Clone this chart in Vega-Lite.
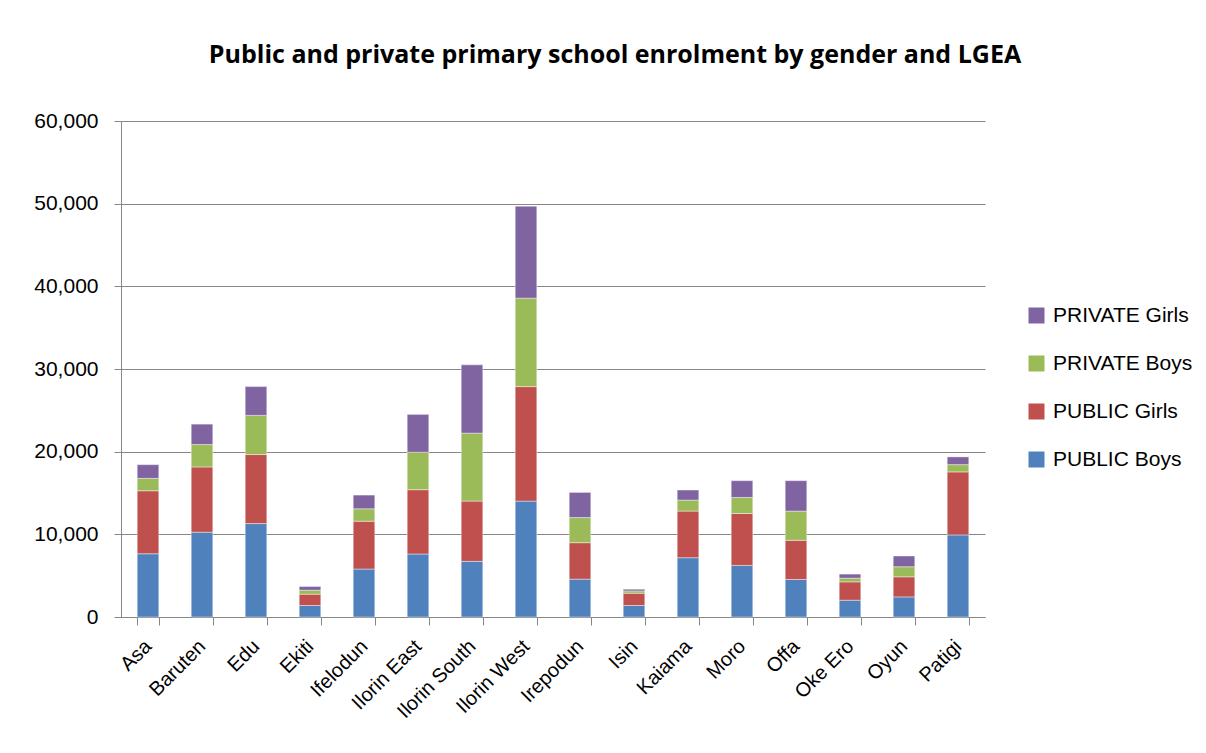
{
  "$schema": "https://vega.github.io/schema/vega-lite/v6.json",
  "autosize": "none",
  "width": 864,
  "height": 496,
  "padding": {"left": 121, "top": 121, "right": 221, "bottom": 136},
  "background": "white",
  "title": {
    "text": "Public and private primary school enrolment by gender and LGEA",
    "font": "Open Sans",
    "fontSize": 25,
    "fontWeight": "bold",
    "color": "#000000",
    "anchor": "middle",
    "dx": 62,
    "offset": 42
  },
  "data": {
    "values": [
      {"lgea": "Asa", "series": "PUBLIC Boys", "value": 7650},
      {"lgea": "Asa", "series": "PUBLIC Girls", "value": 7620},
      {"lgea": "Asa", "series": "PRIVATE Boys", "value": 1500},
      {"lgea": "Asa", "series": "PRIVATE Girls", "value": 1660},
      {"lgea": "Baruten", "series": "PUBLIC Boys", "value": 10260},
      {"lgea": "Baruten", "series": "PUBLIC Girls", "value": 7890},
      {"lgea": "Baruten", "series": "PRIVATE Boys", "value": 2710},
      {"lgea": "Baruten", "series": "PRIVATE Girls", "value": 2470},
      {"lgea": "Edu", "series": "PUBLIC Boys", "value": 11300},
      {"lgea": "Edu", "series": "PUBLIC Girls", "value": 8350},
      {"lgea": "Edu", "series": "PRIVATE Boys", "value": 4740},
      {"lgea": "Edu", "series": "PRIVATE Girls", "value": 3480},
      {"lgea": "Ekiti", "series": "PUBLIC Boys", "value": 1390},
      {"lgea": "Ekiti", "series": "PUBLIC Girls", "value": 1370},
      {"lgea": "Ekiti", "series": "PRIVATE Boys", "value": 480},
      {"lgea": "Ekiti", "series": "PRIVATE Girls", "value": 450},
      {"lgea": "Ifelodun", "series": "PUBLIC Boys", "value": 5800},
      {"lgea": "Ifelodun", "series": "PUBLIC Girls", "value": 5790},
      {"lgea": "Ifelodun", "series": "PRIVATE Boys", "value": 1500},
      {"lgea": "Ifelodun", "series": "PRIVATE Girls", "value": 1660},
      {"lgea": "Ilorin East", "series": "PUBLIC Boys", "value": 7620},
      {"lgea": "Ilorin East", "series": "PUBLIC Girls", "value": 7780},
      {"lgea": "Ilorin East", "series": "PRIVATE Boys", "value": 4530},
      {"lgea": "Ilorin East", "series": "PRIVATE Girls", "value": 4580},
      {"lgea": "Ilorin South", "series": "PUBLIC Boys", "value": 6730},
      {"lgea": "Ilorin South", "series": "PUBLIC Girls", "value": 7290},
      {"lgea": "Ilorin South", "series": "PRIVATE Boys", "value": 8220},
      {"lgea": "Ilorin South", "series": "PRIVATE Girls", "value": 8260},
      {"lgea": "Ilorin West", "series": "PUBLIC Boys", "value": 14020},
      {"lgea": "Ilorin West", "series": "PUBLIC Girls", "value": 13850},
      {"lgea": "Ilorin West", "series": "PRIVATE Boys", "value": 10700},
      {"lgea": "Ilorin West", "series": "PRIVATE Girls", "value": 11130},
      {"lgea": "Irepodun", "series": "PUBLIC Boys", "value": 4580},
      {"lgea": "Irepodun", "series": "PUBLIC Girls", "value": 4410},
      {"lgea": "Irepodun", "series": "PRIVATE Boys", "value": 3040},
      {"lgea": "Irepodun", "series": "PRIVATE Girls", "value": 3040},
      {"lgea": "Isin", "series": "PUBLIC Boys", "value": 1390},
      {"lgea": "Isin", "series": "PUBLIC Girls", "value": 1490},
      {"lgea": "Isin", "series": "PRIVATE Boys", "value": 280},
      {"lgea": "Isin", "series": "PRIVATE Girls", "value": 210},
      {"lgea": "Kaiama", "series": "PUBLIC Boys", "value": 7170},
      {"lgea": "Kaiama", "series": "PUBLIC Girls", "value": 5640},
      {"lgea": "Kaiama", "series": "PRIVATE Boys", "value": 1330},
      {"lgea": "Kaiama", "series": "PRIVATE Girls", "value": 1220},
      {"lgea": "Moro", "series": "PUBLIC Boys", "value": 6240},
      {"lgea": "Moro", "series": "PUBLIC Girls", "value": 6280},
      {"lgea": "Moro", "series": "PRIVATE Boys", "value": 1940},
      {"lgea": "Moro", "series": "PRIVATE Girls", "value": 2030},
      {"lgea": "Offa", "series": "PUBLIC Boys", "value": 4540},
      {"lgea": "Offa", "series": "PUBLIC Girls", "value": 4740},
      {"lgea": "Offa", "series": "PRIVATE Boys", "value": 3530},
      {"lgea": "Offa", "series": "PRIVATE Girls", "value": 3680},
      {"lgea": "Oke Ero", "series": "PUBLIC Boys", "value": 2030},
      {"lgea": "Oke Ero", "series": "PUBLIC Girls", "value": 2220},
      {"lgea": "Oke Ero", "series": "PRIVATE Boys", "value": 450},
      {"lgea": "Oke Ero", "series": "PRIVATE Girls", "value": 490},
      {"lgea": "Oyun", "series": "PUBLIC Boys", "value": 2430},
      {"lgea": "Oyun", "series": "PUBLIC Girls", "value": 2430},
      {"lgea": "Oyun", "series": "PRIVATE Boys", "value": 1220},
      {"lgea": "Oyun", "series": "PRIVATE Girls", "value": 1300},
      {"lgea": "Patigi", "series": "PUBLIC Boys", "value": 9930},
      {"lgea": "Patigi", "series": "PUBLIC Girls", "value": 7620},
      {"lgea": "Patigi", "series": "PRIVATE Boys", "value": 880},
      {"lgea": "Patigi", "series": "PRIVATE Girls", "value": 940}
    ]
  },
  "transform": [
    {"calculate": "indexof(['PUBLIC Boys', 'PUBLIC Girls', 'PRIVATE Boys', 'PRIVATE Girls'], datum.series)", "as": "stackRank"}
  ],
  "mark": {"type": "bar", "stroke": "#ffffff", "strokeWidth": 0.6, "strokeOpacity": 0.7},
  "encoding": {
    "x": {
      "field": "lgea",
      "type": "nominal",
      "sort": null,
      "title": null,
      "scale": {"paddingInner": 0.6, "paddingOuter": 0.3},
      "axis": {
        "labelAngle": -45,
        "labelAlign": "right",
        "labelBaseline": "middle",
        "labelFont": "Liberation Sans",
        "labelFontSize": 20,
        "labelColor": "#000000",
        "labelPadding": 18,
        "tickBand": "extent",
        "tickSize": 8,
        "tickColor": "#868686",
        "domainColor": "#868686",
        "grid": false
      }
    },
    "y": {
      "field": "value",
      "type": "quantitative",
      "aggregate": "sum",
      "stack": "zero",
      "title": null,
      "scale": {"domain": [0, 60000], "nice": false},
      "axis": {
        "values": [0, 10000, 20000, 30000, 40000, 50000, 60000],
        "format": ",.0f",
        "labelFont": "Liberation Sans",
        "labelFontSize": 21,
        "labelColor": "#000000",
        "labelPadding": 16,
        "tickSize": 7,
        "tickColor": "#868686",
        "domainColor": "#868686",
        "gridColor": "#868686",
        "gridWidth": 1
      }
    },
    "order": {"field": "stackRank", "type": "quantitative", "sort": "ascending"},
    "color": {
      "field": "series",
      "type": "nominal",
      "scale": {
        "domain": ["PRIVATE Girls", "PRIVATE Boys", "PUBLIC Girls", "PUBLIC Boys"],
        "range": ["#8064A2", "#9BBB59", "#C0504D", "#4F81BD"]
      },
      "legend": {
        "title": null,
        "orient": "none",
        "legendX": 905,
        "legendY": 184,
        "symbolType": "square",
        "symbolSize": 256,
        "symbolStrokeWidth": 0,
        "labelFont": "Liberation Sans",
        "labelFontSize": 21,
        "labelColor": "#000000",
        "labelOffset": 6,
        "rowPadding": 26
      }
    }
  },
  "config": {
    "view": {"stroke": null}
  }
}
